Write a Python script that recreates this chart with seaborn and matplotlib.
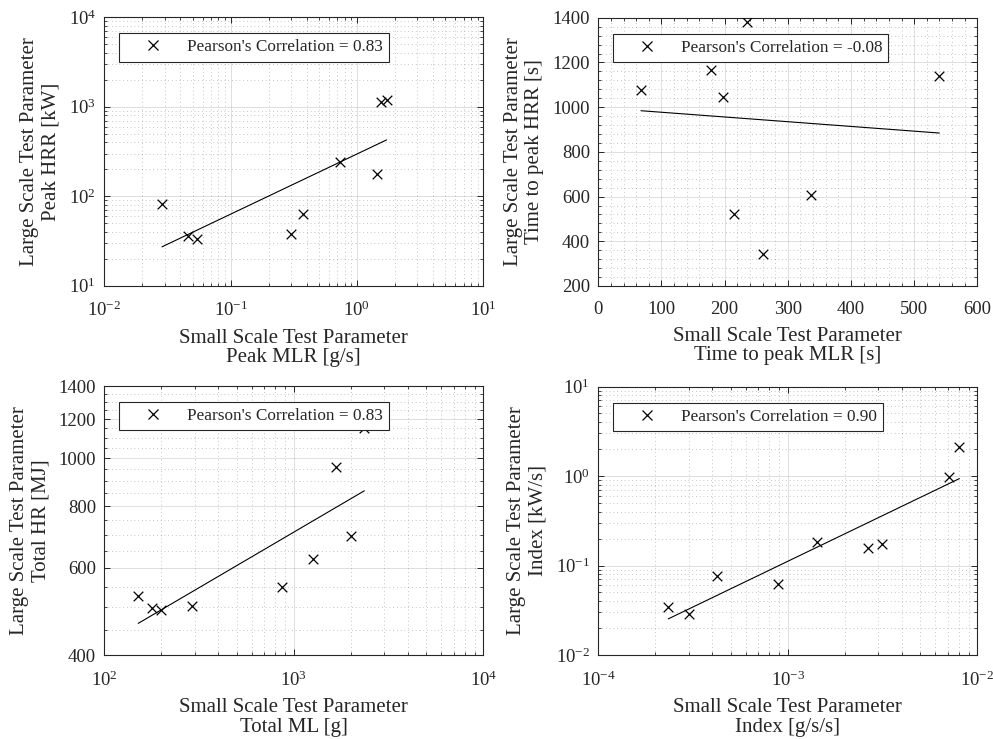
import numpy as np
import pandas as pd
import matplotlib
matplotlib.use("Agg")
import matplotlib.pyplot as plt
import seaborn as sns
from matplotlib.lines import Line2D
from matplotlib.ticker import (LogLocator, FixedLocator, MultipleLocator,
                               AutoMinorLocator, NullFormatter,
                               LogFormatterMathtext, FormatStrFormatter)

# ---- Peak heat release vs. peak mass loss rate ----
peak_mlr = [0.0286, 0.0457, 0.0541, 0.2985, 0.3715, 0.733, 1.431, 1.549, 1.717]
peak_hrr = [81.9, 35.9, 33.0, 37.8, 62.8, 239.0, 178.8, 1122.0, 1181.0]

# ---- Time to peak ----
t_peak_mlr = [67.5, 178.4, 197.4, 205.0, 235.9, 215.3, 261.2, 336.1, 539.8]
t_peak_hrr = [1077, 1165, 1046, 1234, 1380, 523, 342, 606, 1141]

# ---- Totals ----
total_ml = [151, 179, 199, 291, 870, 1267, 1669, 2003, 2355]
total_hr = [527, 497, 493, 503, 549, 626, 961, 697, 1150]

# ---- Growth index ----
index_small = [2.34e-4, 3.01e-4, 4.21e-4, 8.84e-4, 1.425e-3, 2.64e-3, 3.13e-3, 7.12e-3, 8.04e-3]
index_large = [0.0344, 0.0285, 0.0764, 0.0622, 0.185, 0.1585, 0.1758, 0.970, 2.135]

pearson_labels = ["Pearson's Correlation = 0.83",
                  "Pearson's Correlation = -0.08",
                  "Pearson's Correlation = 0.83",
                  "Pearson's Correlation = 0.90"]

x_labels = ["Small Scale Test Parameter\nPeak MLR [g/s]",
            "Small Scale Test Parameter\nTime to peak MLR [s]",
            "Small Scale Test Parameter\nTotal ML [g]",
            "Small Scale Test Parameter\nIndex [g/s/s]"]
y_labels = ["Large Scale Test Parameter\nPeak HRR [kW]",
            "Large Scale Test Parameter\nTime to peak HRR [s]",
            "Large Scale Test Parameter\nTotal HR [MJ]",
            "Large Scale Test Parameter\nIndex [kW/s]"]

total_hr_ticks = [400, 600, 800, 1000, 1200, 1400]
total_hr_minor = [450, 500, 550, 650, 700, 750, 850, 900, 950,
                  1050, 1100, 1150, 1250, 1300, 1350]

sns.set_style("ticks")
INK = "#262626"
plt.rcParams.update({
    "font.family": ["Liberation Serif", "DejaVu Serif"],
    "mathtext.fontset": "custom",
    "mathtext.rm": "Liberation Serif",
    "mathtext.it": "Liberation Serif:italic",
    "mathtext.bf": "Liberation Serif:bold",
    "text.color": INK,
    "axes.labelcolor": INK,
    "axes.edgecolor": INK,
    "xtick.color": INK,
    "ytick.color": INK,
    "axes.linewidth": 0.8,
})

fig = plt.figure(figsize=(9.93, 7.39), dpi=100)
W, H = 993, 739


def place(left, top, right, bottom):
    return fig.add_axes([left / W, 1 - bottom / H, (right - left) / W, (bottom - top) / H])


axes = [place(104.3, 17.3, 483.3, 285.7),
        place(598.3, 17.8, 977.3, 286.0),
        place(104.3, 386.0, 483.3, 655.0),
        place(598.3, 386.5, 977.3, 655.0)]

panels = [
    (peak_mlr, peak_hrr, "log", "log", (1e-2, 1e1), (1e1, 1e4)),
    (t_peak_mlr, t_peak_hrr, "linear", "linear", (0, 600), (200, 1400)),
    (total_ml, total_hr, "log", "log", (1e2, 1e4), (400, 1400)),
    (index_small, index_large, "log", "log", (1e-4, 1e-2), (1e-2, 1e1)),
]

for i, (ax, (xs, ys, xsc, ysc, xlim, ylim)) in enumerate(zip(axes, panels)):
    x = np.asarray(xs, float)
    y = np.asarray(ys, float)
    df = pd.DataFrame({"x": x, "y": y})

    ax.set_xscale(xsc)
    ax.set_yscale(ysc)

    # least-squares fit, done in log space for log axes
    fx = np.log10(x) if xsc == "log" else x
    fy = np.log10(y) if ysc == "log" else y
    slope, icpt = np.polyfit(fx, fy, 1)
    span = np.array([fx.min(), fx.max()])
    line_y = slope * span + icpt
    fit = pd.DataFrame({
        "x": 10 ** span if xsc == "log" else span,
        "y": 10 ** line_y if ysc == "log" else line_y,
    })

    sns.lineplot(data=fit, x="x", y="y", ax=ax, color="black", lw=0.8, zorder=3)
    sns.scatterplot(data=df, x="x", y="y", ax=ax, marker="x", color="black",
                    s=48, linewidth=0.9, zorder=4)

    ax.set_xlim(*xlim)
    ax.set_ylim(*ylim)

    if xsc == "log":
        ax.xaxis.set_major_locator(LogLocator(base=10, numticks=10))
        ax.xaxis.set_minor_locator(LogLocator(base=10, subs=np.arange(2, 10), numticks=30))
        ax.xaxis.set_major_formatter(LogFormatterMathtext())
        ax.xaxis.set_minor_formatter(NullFormatter())
    else:
        ax.xaxis.set_major_locator(MultipleLocator(100))
        ax.xaxis.set_minor_locator(AutoMinorLocator(5))
    if i == 2:
        ax.yaxis.set_major_locator(FixedLocator(total_hr_ticks))
        ax.yaxis.set_minor_locator(FixedLocator(total_hr_minor))
        ax.yaxis.set_major_formatter(FormatStrFormatter("%d"))
        ax.yaxis.set_minor_formatter(NullFormatter())
    elif ysc == "log":
        ax.yaxis.set_major_locator(LogLocator(base=10, numticks=10))
        ax.yaxis.set_minor_locator(LogLocator(base=10, subs=np.arange(2, 10), numticks=30))
        ax.yaxis.set_major_formatter(LogFormatterMathtext())
        ax.yaxis.set_minor_formatter(NullFormatter())
    else:
        ax.yaxis.set_major_locator(MultipleLocator(200))
        ax.yaxis.set_minor_locator(AutoMinorLocator(5))

    ax.grid(True, which="major", color=INK, alpha=0.15, lw=0.7, ls="-")
    ax.grid(True, which="minor", color=INK, alpha=0.35, lw=0.6, ls=(0, (1, 3.5)))
    ax.set_axisbelow(True)

    ax.tick_params(which="both", direction="in", top=True, right=True, labelsize=13.5)
    ax.tick_params(which="major", length=4, width=0.7)
    ax.tick_params(axis="x", which="major", pad=11)
    ax.tick_params(axis="y", which="major", pad=6)
    ax.tick_params(which="minor", length=2, width=0.6)
    for sp in ax.spines.values():
        sp.set_visible(True)
        sp.set_color(INK)
        sp.set_linewidth(0.8)

    ax.set_xlabel(x_labels[i], fontsize=15, linespacing=1.05, labelpad=6)
    ax.set_ylabel(y_labels[i], fontsize=15, linespacing=1.15, labelpad=6)

    handle = Line2D([], [], ls="none", marker="x", color="black", ms=7, mew=0.9)
    leg = ax.legend([handle], [pearson_labels[i]], loc="upper left",
                    bbox_to_anchor=(0.04, 0.94), borderaxespad=0, fontsize=12.4,
                    frameon=True, fancybox=False, framealpha=1, edgecolor=INK,
                    borderpad=0.35, handlelength=3.15, handletextpad=0.4)
    leg.get_frame().set_linewidth(0.8)
    leg.set_zorder(10)

fig.savefig("out.png", dpi=100, facecolor="white")
